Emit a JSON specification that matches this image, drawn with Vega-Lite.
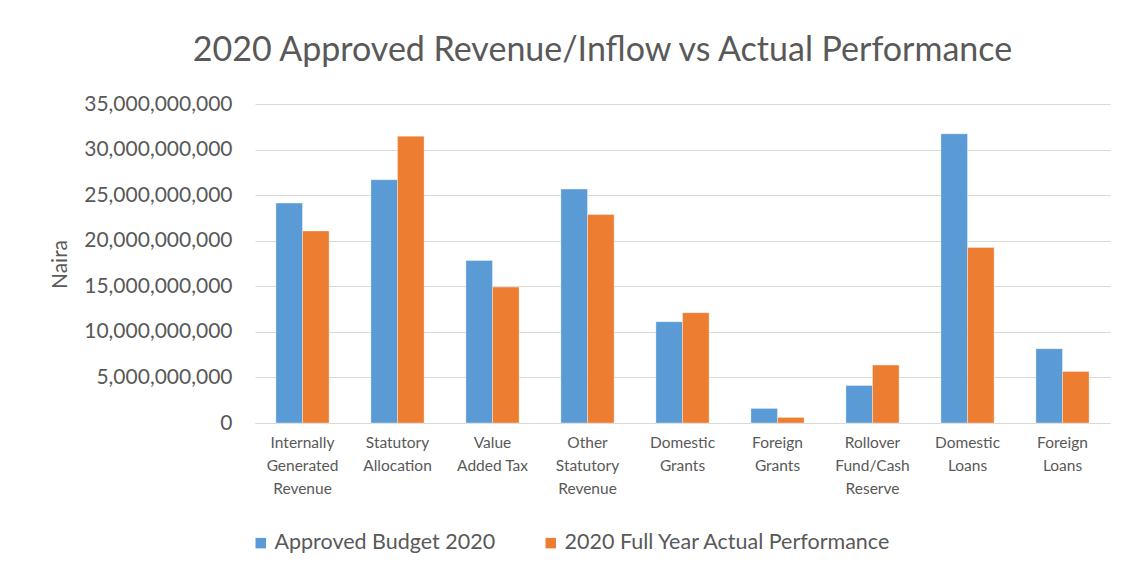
{
  "$schema": "https://vega.github.io/schema/vega-lite/v6.json",
  "autosize": {"type": "none"},
  "width": 855,
  "height": 319,
  "padding": {"left": 255, "top": 104, "right": 18, "bottom": 155},
  "background": "white",
  "title": {
    "text": "2020 Approved Revenue/Inflow vs Actual Performance",
    "fontSize": 34,
    "font": "Lato",
    "fontWeight": "normal",
    "color": "#595959",
    "anchor": "middle",
    "dx": -80,
    "baseline": "alphabetic",
    "offset": -2
  },
  "data": {
    "values": [
      {"category": "Internally Generated Revenue", "series": "Approved Budget 2020", "value": 24130000000},
      {"category": "Internally Generated Revenue", "series": "2020 Full Year Actual Performance", "value": 21070000000},
      {"category": "Statutory Allocation", "series": "Approved Budget 2020", "value": 26700000000},
      {"category": "Statutory Allocation", "series": "2020 Full Year Actual Performance", "value": 31470000000},
      {"category": "Value Added Tax", "series": "Approved Budget 2020", "value": 17830000000},
      {"category": "Value Added Tax", "series": "2020 Full Year Actual Performance", "value": 14910000000},
      {"category": "Other Statutory Revenue", "series": "Approved Budget 2020", "value": 25670000000},
      {"category": "Other Statutory Revenue", "series": "2020 Full Year Actual Performance", "value": 22870000000},
      {"category": "Domestic Grants", "series": "Approved Budget 2020", "value": 11120000000},
      {"category": "Domestic Grants", "series": "2020 Full Year Actual Performance", "value": 12100000000},
      {"category": "Foreign Grants", "series": "Approved Budget 2020", "value": 1600000000},
      {"category": "Foreign Grants", "series": "2020 Full Year Actual Performance", "value": 610000000},
      {"category": "Rollover Fund/Cash Reserve", "series": "Approved Budget 2020", "value": 4110000000},
      {"category": "Rollover Fund/Cash Reserve", "series": "2020 Full Year Actual Performance", "value": 6350000000},
      {"category": "Domestic Loans", "series": "Approved Budget 2020", "value": 31730000000},
      {"category": "Domestic Loans", "series": "2020 Full Year Actual Performance", "value": 19260000000},
      {"category": "Foreign Loans", "series": "Approved Budget 2020", "value": 8160000000},
      {"category": "Foreign Loans", "series": "2020 Full Year Actual Performance", "value": 5650000000}
    ]
  },
  "mark": {"type": "bar", "stroke": "white", "strokeWidth": 0.6, "strokeOpacity": 0.6},
  "encoding": {
    "x": {
      "field": "category",
      "type": "nominal",
      "sort": null,
      "scale": {"paddingInner": 0.44, "paddingOuter": 0.22},
      "axis": {
        "title": null,
        "labelAngle": 0,
        "labelFont": "Lato",
        "labelFontSize": 15.5,
        "labelColor": "#595959",
        "labelLineHeight": 23,
        "labelPadding": 12,
        "labelBaseline": "top",
        "ticks": false,
        "domainColor": "#d9d9d9",
        "domainWidth": 1,
        "labelExpr": "datum.label == 'Value Added Tax' ? ['Value', 'Added Tax'] : datum.label == 'Rollover Fund/Cash Reserve' ? ['Rollover', 'Fund/Cash', 'Reserve'] : split(datum.label, ' ')"
      }
    },
    "xOffset": {
      "field": "series",
      "type": "nominal",
      "sort": ["Approved Budget 2020", "2020 Full Year Actual Performance"],
      "scale": {"paddingInner": 0, "paddingOuter": 0}
    },
    "y": {
      "field": "value",
      "type": "quantitative",
      "scale": {"domain": [0, 35000000000], "nice": false},
      "axis": {
        "title": "Naira",
        "titleFont": "Lato",
        "titleFontSize": 21,
        "titleFontWeight": "normal",
        "titleColor": "#595959",
        "titleX": -195,
        "titleY": 160,
        "titleAlign": "center",
        "titleBaseline": "middle",
        "titleAngle": -90,
        "values": [0, 5000000000, 10000000000, 15000000000, 20000000000, 25000000000, 30000000000, 35000000000],
        "format": ",.0f",
        "labelFont": "Lato",
        "labelFontSize": 21,
        "labelColor": "#595959",
        "labelPadding": 23,
        "labelLimit": 300,
        "ticks": false,
        "domain": false,
        "gridColor": "#d9d9d9",
        "gridWidth": 1
      }
    },
    "color": {
      "field": "series",
      "type": "nominal",
      "sort": ["Approved Budget 2020", "2020 Full Year Actual Performance"],
      "scale": {"domain": ["Approved Budget 2020", "2020 Full Year Actual Performance"], "range": ["#5B9BD5", "#ED7D31"]},
      "legend": {
        "title": null,
        "orient": "none",
        "direction": "horizontal",
        "legendX": -5,
        "legendY": 428,
        "symbolType": "square",
        "symbolSize": 110,
        "symbolStrokeWidth": 0,
        "labelFont": "Lato",
        "labelFontSize": 21.5,
        "labelLimit": 500,
        "labelColor": "#595959",
        "labelOffset": 3,
        "columnPadding": 44
      }
    }
  },
  "config": {
    "view": {"stroke": null}
  }
}
